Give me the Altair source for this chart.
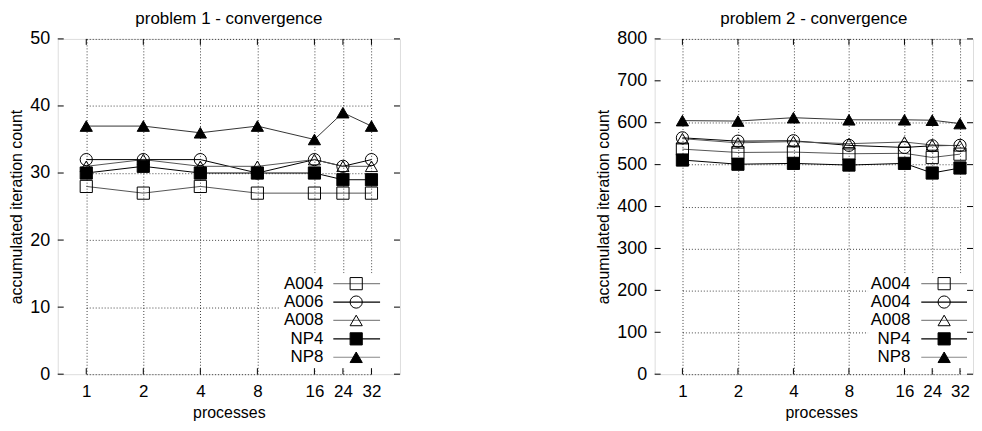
import altair as alt
import pandas as pd

# ---------------- data ----------------
procs = [1, 2, 4, 8, 16, 24, 32]
piece_domain = [1, 2, 4, 8, 16, 32]
series_keys = ["A004", "A006", "A008", "NP4", "NP8"]

p1_A004 = [28, 27, 28, 27, 27, 27, 27]
p1_A006 = [32, 32, 32, 30, 32, 31, 32]
p1_A008 = [31, 32, 31, 31, 32, 31, 31]
p1_NP4 = [30, 31, 30, 30, 30, 29, 29]
p1_NP8 = [37, 37, 36, 37, 35, 39, 37]

p2_A004 = [537, 529, 530, 526, 527, 517, 525]
p2_A006 = [564, 556, 557, 546, 541, 545, 546]
p2_A008 = [562, 552, 555, 550, 554, 547, 545]
p2_NP4 = [511, 501, 503, 499, 503, 480, 492]
p2_NP8 = [605, 604, 612, 607, 607, 606, 598]

p1_labels = ["A004", "A006", "A008", "NP4", "NP8"]
p2_labels = ["A004", "A004", "A008", "NP4", "NP8"]

p1_yticks = [0, 10, 20, 30, 40, 50]
p2_yticks = [0, 100, 200, 300, 400, 500, 600, 700, 800]

# ---------------- styles ----------------
FONT = "Liberation Sans"
line_colors = ["#555555", "#000000", "#555555", "#000000", "#333333"]
legend_line_colors = ["#888888", "#000000", "#888888", "#000000", "#888888"]
shapes = ["square", "circle", "triangle-up", "square", "triangle-up"]
fills = ["transparent", "transparent", "transparent", "#000000", "#000000"]
sizes = [150, 150, 140, 120, 70]

color_scale = alt.Scale(domain=series_keys, range=line_colors)
lcolor_scale = alt.Scale(domain=series_keys, range=legend_line_colors)
shape_scale = alt.Scale(domain=series_keys, range=shapes)
fill_scale = alt.Scale(domain=series_keys, range=fills)
size_scale = alt.Scale(domain=series_keys, range=sizes)


def make_panel(title, series, labels, ymax, yticks, W, H, step, leg):
    rows = []
    for key, vals in zip(series_keys, series):
        for p, v in zip(procs, vals):
            rows.append({"key": key, "proc": p, "val": v})
    df = pd.DataFrame(rows)

    xscale = alt.Scale(type="linear", domain=piece_domain,
                       range=[step * (i + 0.5) for i in range(len(piece_domain))],
                       nice=False, zero=False)
    yscale = alt.Scale(domain=[0, ymax], nice=False, zero=True)

    xenc = alt.X("proc:Q", scale=xscale,
                 axis=alt.Axis(values=procs, grid=True, gridDash=[1, 2], gridColor="#000",
                               gridOpacity=0.75, domain=False, ticks=False,
                               labelFontSize=17, labelPadding=9, labelFont=FONT,
                               labelColor="#000", title="processes", titleFont=FONT,
                               titleFontSize=16, titleFontWeight="normal", titleColor="#000",
                               titlePadding=6, labelFlush=False, labelOverlap=False))
    yenc = alt.Y("val:Q", scale=yscale,
                 axis=alt.Axis(values=yticks, grid=True, gridDash=[1, 2], gridColor="#000",
                               gridOpacity=0.75, domain=False, ticks=False,
                               labelFontSize=18, labelPadding=8, labelFont=FONT,
                               labelColor="#000", title="accumulated iteration count",
                               titleFont=FONT, titleFontSize=16, titleFontWeight="normal",
                               titleColor="#000", titlePadding=5))

    lines = alt.Chart(df).mark_line(strokeWidth=1).encode(
        x=xenc, y=yenc,
        color=alt.Color("key:N", scale=color_scale, legend=None),
        detail="key:N",
    )
    points = alt.Chart(df).mark_point(filled=True, stroke="black",
                                      strokeWidth=1, opacity=1).encode(
        x="proc:Q", y="val:Q",
        shape=alt.Shape("key:N", scale=shape_scale, legend=None),
        fill=alt.Fill("key:N", scale=fill_scale, legend=None),
        size=alt.Size("key:N", scale=size_scale, legend=None),
    )

    xt = pd.DataFrame({"proc": procs})
    yt = pd.DataFrame({"val": yticks})
    tb = alt.Chart(xt).mark_rule(color="black", strokeWidth=1).encode(
        x="proc:Q", y=alt.value(H), y2=alt.value(H - 6))
    tt = alt.Chart(xt).mark_rule(color="black", strokeWidth=1).encode(
        x="proc:Q", y=alt.value(0), y2=alt.value(6))
    tl = alt.Chart(yt).mark_rule(color="black", strokeWidth=1).encode(
        y="val:Q", x=alt.value(0), x2=alt.value(6))
    tr = alt.Chart(yt).mark_rule(color="black", strokeWidth=1).encode(
        y="val:Q", x=alt.value(W - 6), x2=alt.value(W))

    main = alt.layer(lines, points, tb, tt, tl, tr)

    ldf = pd.DataFrame({"key": series_keys, "label": labels})
    ly = alt.Y("key:N", scale=alt.Scale(type="point", domain=series_keys,
                                         range=[leg["y0"], leg["y1"]], padding=0),
               axis=None)
    box = alt.Chart(ldf).mark_rect(fill="white").encode(
        x=alt.value(leg["bx0"]), x2=alt.value(leg["bx1"]),
        y=alt.value(leg["by0"]), y2=alt.value(leg["by1"]))
    ltext = alt.Chart(ldf).mark_text(align="right", baseline="middle", fontSize=17,
                                     font=FONT, color="#000").encode(
        x=alt.value(leg["tx"]), y=ly, text="label:N")
    lrule = alt.Chart(ldf).mark_rule(strokeWidth=1.2).encode(
        x=alt.value(leg["lx0"]), x2=alt.value(leg["lx1"]), y=ly,
        stroke=alt.Stroke("key:N", scale=lcolor_scale, legend=None))
    lpts = alt.Chart(ldf).mark_point(filled=True, stroke="black",
                                     strokeWidth=1, opacity=1).encode(
        x=alt.value(leg["sx"]), y=ly,
        shape=alt.Shape("key:N", scale=shape_scale, legend=None),
        fill=alt.Fill("key:N", scale=fill_scale, legend=None),
        size=alt.Size("key:N", scale=size_scale, legend=None),
    )
    legend = alt.layer(box, lrule, lpts, ltext)

    return alt.layer(legend, main).resolve_scale(y="independent").properties(
        width=W, height=H,
        title=alt.TitleParams(title, fontSize=17, fontWeight="normal", font=FONT,
                              color="#000", offset=2, anchor="middle"),
    )


H = 337
W1 = 344
W2 = 320
leg1 = dict(y0=246, y1=320, bx0=224, bx1=338, by0=236, by1=331,
            tx=267, lx0=277, lx1=324, sx=300)
leg2 = dict(y0=246, y1=320, bx0=215, bx1=316, by0=236, by1=331,
            tx=257, lx0=268, lx1=314, sx=291)

c1 = make_panel("problem 1 - convergence",
                [p1_A004, p1_A006, p1_A008, p1_NP4, p1_NP8],
                p1_labels, 50, p1_yticks, W1, H, W1 / 6, leg1)
c2 = make_panel("problem 2 - convergence",
                [p2_A004, p2_A006, p2_A008, p2_NP4, p2_NP8],
                p2_labels, 800, p2_yticks, W2, H, 55.8, leg2)

chart = alt.hconcat(c1, c2, spacing=195).properties(
    padding={"left": 0, "top": 0, "right": 0, "bottom": 0}
).configure_view(stroke="black", strokeWidth=1.2).configure(background="white")

chart.save("out.html", embed_options={"renderer": "svg", "actions": False})
